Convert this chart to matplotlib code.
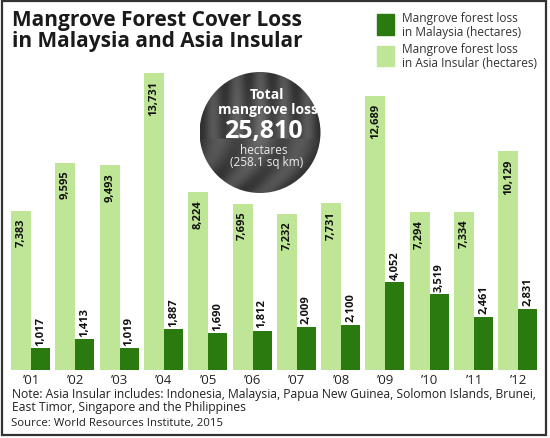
import numpy as np
import matplotlib
matplotlib.use("Agg")
from matplotlib import pyplot as plt
from matplotlib.patches import Ellipse, Rectangle

plt.rcParams['font.family'] = ['Open Sans', 'DejaVu Sans']

years = ["’01", "’02", "’03", "’04", "’05", "’06", "’07", "’08", "’09", "’10", "’11", "’12"]
malaysia = [1017, 1413, 1019, 1887, 1690, 1812, 2009, 2100, 4052, 3519, 2461, 2831]
asia_insular = [7383, 9595, 9493, 13731, 8224, 7695, 7232, 7731, 12689, 7294, 7334, 10129]

dark_green = "#2b7a10"
light_green = "#bfe596"

W, H = 550, 439
fig = plt.figure(figsize=(W / 100, H / 100), dpi=100)

# bar axes, placed in pixel terms
left_px, right_px = 8.85, 540.45
base_px, top_px = 371, 68.6
ax = fig.add_axes([left_px / W, (H - base_px) / H, (right_px - left_px) / W, (base_px - top_px) / H])
ax.set_xlim(-0.5, 11.5)
ax.set_ylim(0, 14000)
ax.axis("off")

x = np.arange(len(years))
w_light, w_dark = 0.45, 0.43
ax.bar(x - w_light / 2, asia_insular, width=w_light, color=light_green, linewidth=0)
ax.bar(x + w_dark / 2, malaysia, width=w_dark, color=dark_green, linewidth=0)

for i in range(len(years)):
    ax.annotate(f"{asia_insular[i]:,}", (x[i] - w_light / 2, asia_insular[i]),
                xytext=(0, -5), textcoords="offset points", rotation=90,
                ha="center", va="top", fontsize=8, fontweight="bold", color="#111111")
    ax.annotate(f"{malaysia[i]:,}", (x[i] + w_dark / 2, malaysia[i]),
                xytext=(0, 2.5), textcoords="offset points", rotation=90,
                ha="center", va="bottom", fontsize=8, fontweight="bold", color="#111111")
    ax.annotate(years[i], (x[i], 0), xytext=(0, -2), textcoords="offset points",
                ha="center", va="top", fontsize=9.5, color="#222222")

# title
fig.text(12 / W, 1 - 20.5 / H, "Mangrove Forest Cover Loss", fontsize=15, fontweight="bold",
         color="#1a1a1a", va="center", ha="left")
fig.text(12 / W, 1 - 42 / H, "in Malaysia and Asia Insular", fontsize=15, fontweight="bold",
         color="#1a1a1a", va="center", ha="left")

# legend
fig.patches.append(Rectangle((377 / W, 1 - 36 / H), 17 / W, 21 / H, transform=fig.transFigure,
                             color=dark_green, zorder=3))
fig.patches.append(Rectangle((377 / W, 1 - 67 / H), 17 / W, 20 / H, transform=fig.transFigure,
                             color=light_green, zorder=3))
fig.text(402 / W, 1 - 25.5 / H, "Mangrove forest loss\nin Malaysia (hectares)", fontsize=8.6,
         color="#333333", va="center", ha="left", linespacing=1.1)
fig.text(402 / W, 1 - 56.5 / H, "Mangrove forest loss\nin Asia Insular (hectares)", fontsize=8.6,
         color="#333333", va="center", ha="left", linespacing=1.1)

# circle badge
cx, cy, ew, eh = 260, 133.5, 138, 121
badge = fig.add_axes([(cx - ew / 2) / W, 1 - (cy + eh / 2) / H, ew / W, eh / H])
badge.set_xlim(-1, 1)
badge.set_ylim(-1, 1)
badge.axis("off")
gx, gy = np.meshgrid(np.linspace(-1, 1, 200), np.linspace(-1, 1, 200))
shade = 0.36 - 0.1 * np.hypot(gx, gy) + 0.07 * np.cos(gx * 16) * (gy > -0.1) \
    + 0.06 * np.cos(9 * gx + 6 * gy ** 2) * (gy <= -0.1)
img = badge.imshow(shade, cmap="gray", vmin=0, vmax=1, extent=(-1, 1, -1, 1), origin="lower")
clip = Ellipse((0, 0), 2, 2, transform=badge.transData, facecolor="none", edgecolor="none")
badge.add_patch(clip)
img.set_clip_path(clip)

fig.text(267 / W, 1 - 95 / H, "Total", fontsize=10, fontweight="bold", color="white",
         ha="center", va="center")
fig.text(268 / W, 1 - 110 / H, "mangrove loss", fontsize=10, fontweight="bold", color="white",
         ha="center", va="center")
fig.text(263 / W, 1 - 132 / H, "25,810", fontsize=18, fontweight="bold", color="white",
         ha="center", va="center")
fig.text(264 / W, 1 - 150 / H, "hectares", fontsize=8.5, color="#eeeeee",
         ha="center", va="center")
fig.text(267 / W, 1 - 163 / H, "(258.1 sq km)", fontsize=8.5, color="#eeeeee",
         ha="center", va="center")

# notes
fig.text(12 / W, 1 - 395 / H, "Note: Asia Insular includes: Indonesia, Malaysia, Papua New Guinea, Solomon Islands, Brunei,",
         fontsize=8.7, color="#222222", va="center", ha="left")
fig.text(12 / W, 1 - 408 / H, "East Timor, Singapore and the Philippines",
         fontsize=8.7, color="#222222", va="center", ha="left")
fig.text(11 / W, 1 - 424 / H, "Source: World Resources Institute, 2015",
         fontsize=8.2, color="#222222", va="center", ha="left")

# frame
fig.patches.append(Rectangle((2 / W, 1 - 436 / H), 543.5 / W, 434 / H, transform=fig.transFigure,
                             fill=False, edgecolor="#333333", linewidth=1.6))

fig.savefig("out.png", dpi=100)
